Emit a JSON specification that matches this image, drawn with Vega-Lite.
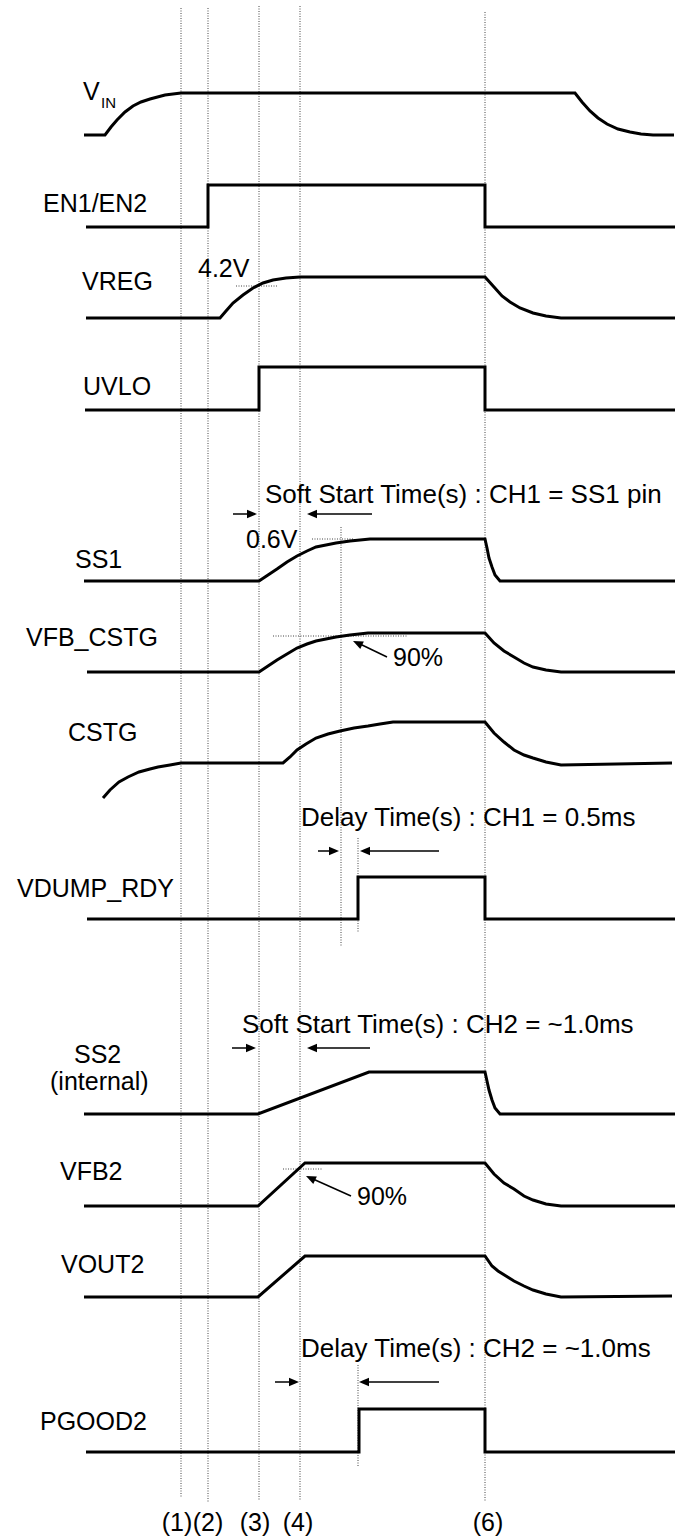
{
  "$schema": "https://vega.github.io/schema/vega-lite/v6.json",
  "width": 680,
  "height": 1537,
  "padding": 0,
  "autosize": {"type": "none"},
  "background": "white",
  "config": {"view": {"stroke": null}},
  "datasets": {
    "waves": [
      {"sig": "VIN", "t": 84, "v": 135}, {"sig": "VIN", "t": 105, "v": 135}, {"sig": "VIN", "t": 111, "v": 127}, {"sig": "VIN", "t": 117, "v": 120}, {"sig": "VIN", "t": 125, "v": 112}, {"sig": "VIN", "t": 133, "v": 106}, {"sig": "VIN", "t": 141, "v": 102}, {"sig": "VIN", "t": 150, "v": 99}, {"sig": "VIN", "t": 165, "v": 95}, {"sig": "VIN", "t": 181, "v": 93}, {"sig": "VIN", "t": 575, "v": 93}, {"sig": "VIN", "t": 582, "v": 102}, {"sig": "VIN", "t": 590, "v": 111}, {"sig": "VIN", "t": 598, "v": 118}, {"sig": "VIN", "t": 607, "v": 124}, {"sig": "VIN", "t": 618, "v": 129}, {"sig": "VIN", "t": 630, "v": 132}, {"sig": "VIN", "t": 641, "v": 134}, {"sig": "VIN", "t": 653, "v": 135}, {"sig": "VIN", "t": 674, "v": 135},
      {"sig": "EN", "t": 86, "v": 227}, {"sig": "EN", "t": 208, "v": 227}, {"sig": "EN", "t": 208, "v": 185}, {"sig": "EN", "t": 485, "v": 185}, {"sig": "EN", "t": 485, "v": 227}, {"sig": "EN", "t": 675, "v": 227},
      {"sig": "VREG", "t": 86, "v": 318}, {"sig": "VREG", "t": 220, "v": 318}, {"sig": "VREG", "t": 226, "v": 311}, {"sig": "VREG", "t": 233, "v": 303}, {"sig": "VREG", "t": 243, "v": 295}, {"sig": "VREG", "t": 253, "v": 288}, {"sig": "VREG", "t": 263, "v": 283}, {"sig": "VREG", "t": 273, "v": 280}, {"sig": "VREG", "t": 286, "v": 278}, {"sig": "VREG", "t": 300, "v": 277}, {"sig": "VREG", "t": 485, "v": 277}, {"sig": "VREG", "t": 494, "v": 287}, {"sig": "VREG", "t": 502, "v": 296}, {"sig": "VREG", "t": 510, "v": 302}, {"sig": "VREG", "t": 520, "v": 308}, {"sig": "VREG", "t": 533, "v": 313}, {"sig": "VREG", "t": 546, "v": 316}, {"sig": "VREG", "t": 561, "v": 318}, {"sig": "VREG", "t": 675, "v": 318},
      {"sig": "UVLO", "t": 85, "v": 410}, {"sig": "UVLO", "t": 259, "v": 410}, {"sig": "UVLO", "t": 259, "v": 367}, {"sig": "UVLO", "t": 485, "v": 367}, {"sig": "UVLO", "t": 485, "v": 410}, {"sig": "UVLO", "t": 675, "v": 410},
      {"sig": "SS1", "t": 84, "v": 581}, {"sig": "SS1", "t": 259, "v": 581}, {"sig": "SS1", "t": 268, "v": 575}, {"sig": "SS1", "t": 277, "v": 569}, {"sig": "SS1", "t": 287, "v": 562}, {"sig": "SS1", "t": 297, "v": 556}, {"sig": "SS1", "t": 307, "v": 551}, {"sig": "SS1", "t": 316, "v": 547}, {"sig": "SS1", "t": 326, "v": 545}, {"sig": "SS1", "t": 336, "v": 543}, {"sig": "SS1", "t": 350, "v": 541}, {"sig": "SS1", "t": 370, "v": 539}, {"sig": "SS1", "t": 485, "v": 539}, {"sig": "SS1", "t": 487, "v": 548}, {"sig": "SS1", "t": 489, "v": 558}, {"sig": "SS1", "t": 492, "v": 567}, {"sig": "SS1", "t": 495, "v": 575}, {"sig": "SS1", "t": 500, "v": 581}, {"sig": "SS1", "t": 675, "v": 581},
      {"sig": "VFB", "t": 87, "v": 672}, {"sig": "VFB", "t": 259, "v": 672}, {"sig": "VFB", "t": 268, "v": 666}, {"sig": "VFB", "t": 277, "v": 660}, {"sig": "VFB", "t": 287, "v": 654}, {"sig": "VFB", "t": 297, "v": 648}, {"sig": "VFB", "t": 307, "v": 644}, {"sig": "VFB", "t": 316, "v": 641}, {"sig": "VFB", "t": 326, "v": 639}, {"sig": "VFB", "t": 336, "v": 637}, {"sig": "VFB", "t": 350, "v": 635}, {"sig": "VFB", "t": 368, "v": 633}, {"sig": "VFB", "t": 485, "v": 633}, {"sig": "VFB", "t": 494, "v": 643}, {"sig": "VFB", "t": 504, "v": 651}, {"sig": "VFB", "t": 514, "v": 657}, {"sig": "VFB", "t": 524, "v": 663}, {"sig": "VFB", "t": 533, "v": 667}, {"sig": "VFB", "t": 546, "v": 670}, {"sig": "VFB", "t": 561, "v": 672}, {"sig": "VFB", "t": 675, "v": 672},
      {"sig": "CSTG", "t": 103, "v": 798}, {"sig": "CSTG", "t": 110, "v": 790}, {"sig": "CSTG", "t": 119, "v": 782}, {"sig": "CSTG", "t": 128, "v": 777}, {"sig": "CSTG", "t": 139, "v": 772}, {"sig": "CSTG", "t": 150, "v": 769}, {"sig": "CSTG", "t": 158, "v": 767}, {"sig": "CSTG", "t": 170, "v": 765}, {"sig": "CSTG", "t": 181, "v": 763}, {"sig": "CSTG", "t": 283, "v": 763}, {"sig": "CSTG", "t": 290, "v": 757}, {"sig": "CSTG", "t": 297, "v": 750}, {"sig": "CSTG", "t": 306, "v": 744}, {"sig": "CSTG", "t": 316, "v": 738}, {"sig": "CSTG", "t": 328, "v": 734}, {"sig": "CSTG", "t": 340, "v": 731}, {"sig": "CSTG", "t": 354, "v": 728}, {"sig": "CSTG", "t": 368, "v": 726}, {"sig": "CSTG", "t": 380, "v": 724}, {"sig": "CSTG", "t": 393, "v": 722}, {"sig": "CSTG", "t": 485, "v": 722}, {"sig": "CSTG", "t": 494, "v": 733}, {"sig": "CSTG", "t": 504, "v": 742}, {"sig": "CSTG", "t": 514, "v": 750}, {"sig": "CSTG", "t": 524, "v": 755}, {"sig": "CSTG", "t": 533, "v": 758}, {"sig": "CSTG", "t": 546, "v": 762}, {"sig": "CSTG", "t": 561, "v": 765}, {"sig": "CSTG", "t": 672, "v": 763},
      {"sig": "VDUMP", "t": 87, "v": 919}, {"sig": "VDUMP", "t": 358, "v": 919}, {"sig": "VDUMP", "t": 358, "v": 877}, {"sig": "VDUMP", "t": 485, "v": 877}, {"sig": "VDUMP", "t": 485, "v": 919}, {"sig": "VDUMP", "t": 675, "v": 919},
      {"sig": "SS2", "t": 84, "v": 1114}, {"sig": "SS2", "t": 258, "v": 1114}, {"sig": "SS2", "t": 369, "v": 1072}, {"sig": "SS2", "t": 485, "v": 1072}, {"sig": "SS2", "t": 487, "v": 1081}, {"sig": "SS2", "t": 489, "v": 1090}, {"sig": "SS2", "t": 492, "v": 1100}, {"sig": "SS2", "t": 495, "v": 1108}, {"sig": "SS2", "t": 500, "v": 1114}, {"sig": "SS2", "t": 675, "v": 1114},
      {"sig": "VFB2", "t": 84, "v": 1206}, {"sig": "VFB2", "t": 258, "v": 1206}, {"sig": "VFB2", "t": 305, "v": 1163}, {"sig": "VFB2", "t": 485, "v": 1163}, {"sig": "VFB2", "t": 494, "v": 1174}, {"sig": "VFB2", "t": 504, "v": 1183}, {"sig": "VFB2", "t": 514, "v": 1189}, {"sig": "VFB2", "t": 524, "v": 1196}, {"sig": "VFB2", "t": 533, "v": 1200}, {"sig": "VFB2", "t": 546, "v": 1204}, {"sig": "VFB2", "t": 561, "v": 1206}, {"sig": "VFB2", "t": 675, "v": 1206},
      {"sig": "VOUT2", "t": 84, "v": 1297}, {"sig": "VOUT2", "t": 258, "v": 1297}, {"sig": "VOUT2", "t": 305, "v": 1256}, {"sig": "VOUT2", "t": 485, "v": 1256}, {"sig": "VOUT2", "t": 492, "v": 1266}, {"sig": "VOUT2", "t": 498, "v": 1271}, {"sig": "VOUT2", "t": 506, "v": 1276}, {"sig": "VOUT2", "t": 514, "v": 1281}, {"sig": "VOUT2", "t": 524, "v": 1286}, {"sig": "VOUT2", "t": 533, "v": 1290}, {"sig": "VOUT2", "t": 546, "v": 1294}, {"sig": "VOUT2", "t": 561, "v": 1297}, {"sig": "VOUT2", "t": 672, "v": 1296},
      {"sig": "PGOOD2", "t": 86, "v": 1452}, {"sig": "PGOOD2", "t": 359, "v": 1452}, {"sig": "PGOOD2", "t": 359, "v": 1409}, {"sig": "PGOOD2", "t": 485, "v": 1409}, {"sig": "PGOOD2", "t": 485, "v": 1452}, {"sig": "PGOOD2", "t": 675, "v": 1452}
    ],
    "vguides": [
      {"t": 181, "v1": 8, "v2": 1497}, {"t": 208, "v1": 8, "v2": 1502}, {"t": 259, "v1": 6, "v2": 1500}, {"t": 300, "v1": 6, "v2": 1500}, {"t": 485, "v1": 12, "v2": 1502},
      {"t": 341, "v1": 527, "v2": 946}, {"t": 358, "v1": 838, "v2": 933}, {"t": 358, "v1": 1365, "v2": 1467}
    ],
    "hguides": [
      {"t1": 236, "t2": 277, "v": 286}, {"t1": 312, "t2": 354, "v": 539}, {"t1": 273, "t2": 407, "v": 636}, {"t1": 283, "t2": 323, "v": 1169}
    ],
    "shafts": [
      {"t1": 233, "v1": 514, "t2": 250, "v2": 514}, {"t1": 314, "v1": 514, "t2": 372, "v2": 514},
      {"t1": 318, "v1": 851, "t2": 332, "v2": 851}, {"t1": 367, "v1": 851, "t2": 439, "v2": 851},
      {"t1": 232, "v1": 1048, "t2": 249, "v2": 1048}, {"t1": 314, "v1": 1048, "t2": 370, "v2": 1048},
      {"t1": 275, "v1": 1382, "t2": 292, "v2": 1382}, {"t1": 366, "v1": 1382, "t2": 439, "v2": 1382},
      {"t1": 387, "v1": 657, "t2": 360, "v2": 644}, {"t1": 351, "v1": 1196, "t2": 313, "v2": 1179}
    ],
    "heads": [
      {"dir": "right", "t": 257, "v": 514}, {"dir": "left", "t": 307, "v": 514},
      {"dir": "right", "t": 339, "v": 851}, {"dir": "left", "t": 360, "v": 851},
      {"dir": "right", "t": 256, "v": 1048}, {"dir": "left", "t": 307, "v": 1048},
      {"dir": "right", "t": 299, "v": 1382}, {"dir": "left", "t": 359, "v": 1382},
      {"dir": "diag", "t": 353, "v": 641}, {"dir": "diag", "t": 306, "v": 1176}
    ],
    "texts": [
      {"kind": "sig", "txt": "V", "t": 83, "v": 100},
      {"kind": "sub", "txt": "IN", "t": 101, "v": 108},
      {"kind": "sig", "txt": "EN1/EN2", "t": 43, "v": 212},
      {"kind": "sig", "txt": "VREG", "t": 82, "v": 290},
      {"kind": "sig", "txt": "UVLO", "t": 83, "v": 395},
      {"kind": "sig", "txt": "SS1", "t": 75, "v": 568},
      {"kind": "sig", "txt": "VFB_CSTG", "t": 26, "v": 646},
      {"kind": "sig", "txt": "CSTG", "t": 68, "v": 741},
      {"kind": "sig", "txt": "VDUMP_RDY", "t": 17, "v": 897},
      {"kind": "sig", "txt": "SS2", "t": 74, "v": 1063},
      {"kind": "sig", "txt": "(internal)", "t": 50, "v": 1090},
      {"kind": "sig", "txt": "VFB2", "t": 60, "v": 1180},
      {"kind": "sig", "txt": "VOUT2", "t": 61, "v": 1273},
      {"kind": "sig", "txt": "PGOOD2", "t": 40, "v": 1430},
      {"kind": "sig", "txt": "4.2V", "t": 198, "v": 277},
      {"kind": "note", "txt": "Soft Start Time(s) : CH1 = SS1 pin", "t": 265, "v": 503},
      {"kind": "sig", "txt": "0.6V", "t": 246, "v": 548},
      {"kind": "sig", "txt": "90%", "t": 393, "v": 666},
      {"kind": "note", "txt": "Delay Time(s) : CH1 = 0.5ms", "t": 301, "v": 826},
      {"kind": "note", "txt": "Soft Start Time(s) : CH2 = ~1.0ms", "t": 242, "v": 1033},
      {"kind": "sig", "txt": "90%", "t": 357, "v": 1205},
      {"kind": "note", "txt": "Delay Time(s) : CH2 = ~1.0ms", "t": 301, "v": 1357},
      {"kind": "mark", "txt": "(1)", "t": 177, "v": 1531},
      {"kind": "mark", "txt": "(2)", "t": 208, "v": 1531},
      {"kind": "mark", "txt": "(3)", "t": 255, "v": 1531},
      {"kind": "mark", "txt": "(4)", "t": 298, "v": 1531},
      {"kind": "mark", "txt": "(6)", "t": 488, "v": 1531}
    ]
  },
  "layer": [
    {
      "data": {"name": "vguides"},
      "mark": {"type": "rule", "color": "#444", "strokeWidth": 1, "strokeDash": [1, 1.5]},
      "encoding": {
        "x": {"field": "t", "type": "quantitative", "axis": null, "scale": {"domain": [0, 680], "nice": false, "zero": false}},
        "y": {"field": "v1", "type": "quantitative", "axis": null, "scale": {"domain": [0, 1537], "nice": false, "zero": false, "reverse": true}},
        "y2": {"field": "v2"}
      }
    },
    {
      "data": {"name": "hguides"},
      "mark": {"type": "rule", "color": "#444", "strokeWidth": 1, "strokeDash": [1, 1.5]},
      "encoding": {
        "x": {"field": "t1", "type": "quantitative", "axis": null},
        "x2": {"field": "t2"},
        "y": {"field": "v", "type": "quantitative", "axis": null}
      }
    },
    {
      "data": {"name": "waves"},
      "mark": {"type": "line", "color": "black", "strokeWidth": 3, "strokeJoin": "miter", "strokeCap": "butt"},
      "encoding": {
        "x": {"field": "t", "type": "quantitative", "axis": null},
        "y": {"field": "v", "type": "quantitative", "axis": null},
        "detail": {"field": "sig"},
        "order": {"value": null}
      }
    },
    {
      "data": {"name": "shafts"},
      "mark": {"type": "rule", "color": "black", "strokeWidth": 1.5},
      "encoding": {
        "x": {"field": "t1", "type": "quantitative", "axis": null},
        "y": {"field": "v1", "type": "quantitative", "axis": null},
        "x2": {"field": "t2"},
        "y2": {"field": "v2"}
      }
    },
    {
      "data": {"name": "heads"},
      "transform": [{"filter": "datum.dir === 'right'"}],
      "mark": {"type": "point", "filled": true, "color": "black", "opacity": 1, "size": 400, "shape": "M0,0L-1,-0.42L-1,0.42Z"},
      "encoding": {
        "x": {"field": "t", "type": "quantitative", "axis": null},
        "y": {"field": "v", "type": "quantitative", "axis": null}
      }
    },
    {
      "data": {"name": "heads"},
      "transform": [{"filter": "datum.dir === 'left'"}],
      "mark": {"type": "point", "filled": true, "color": "black", "opacity": 1, "size": 400, "shape": "M0,0L1,-0.42L1,0.42Z"},
      "encoding": {
        "x": {"field": "t", "type": "quantitative", "axis": null},
        "y": {"field": "v", "type": "quantitative", "axis": null}
      }
    },
    {
      "data": {"name": "heads"},
      "transform": [{"filter": "datum.dir === 'diag'"}],
      "mark": {"type": "point", "filled": true, "color": "black", "opacity": 1, "size": 400, "angle": 205, "shape": "M0,0L-1,-0.42L-1,0.42Z"},
      "encoding": {
        "x": {"field": "t", "type": "quantitative", "axis": null},
        "y": {"field": "v", "type": "quantitative", "axis": null}
      }
    },
    {
      "data": {"name": "texts"},
      "transform": [{"filter": "datum.kind === 'sig'"}],
      "mark": {"type": "text", "align": "left", "baseline": "alphabetic", "font": "Liberation Sans", "fontSize": 25, "color": "black"},
      "encoding": {
        "x": {"field": "t", "type": "quantitative", "axis": null},
        "y": {"field": "v", "type": "quantitative", "axis": null},
        "text": {"field": "txt"}
      }
    },
    {
      "data": {"name": "texts"},
      "transform": [{"filter": "datum.kind === 'note'"}],
      "mark": {"type": "text", "align": "left", "baseline": "alphabetic", "font": "Liberation Sans", "fontSize": 26, "color": "black"},
      "encoding": {
        "x": {"field": "t", "type": "quantitative", "axis": null},
        "y": {"field": "v", "type": "quantitative", "axis": null},
        "text": {"field": "txt"}
      }
    },
    {
      "data": {"name": "texts"},
      "transform": [{"filter": "datum.kind === 'sub'"}],
      "mark": {"type": "text", "align": "left", "baseline": "alphabetic", "font": "Liberation Sans", "fontSize": 15, "color": "black"},
      "encoding": {
        "x": {"field": "t", "type": "quantitative", "axis": null},
        "y": {"field": "v", "type": "quantitative", "axis": null},
        "text": {"field": "txt"}
      }
    },
    {
      "data": {"name": "texts"},
      "transform": [{"filter": "datum.kind === 'mark'"}],
      "mark": {"type": "text", "align": "center", "baseline": "alphabetic", "font": "Liberation Sans", "fontSize": 25, "color": "black"},
      "encoding": {
        "x": {"field": "t", "type": "quantitative", "axis": null},
        "y": {"field": "v", "type": "quantitative", "axis": null},
        "text": {"field": "txt"}
      }
    }
  ]
}
